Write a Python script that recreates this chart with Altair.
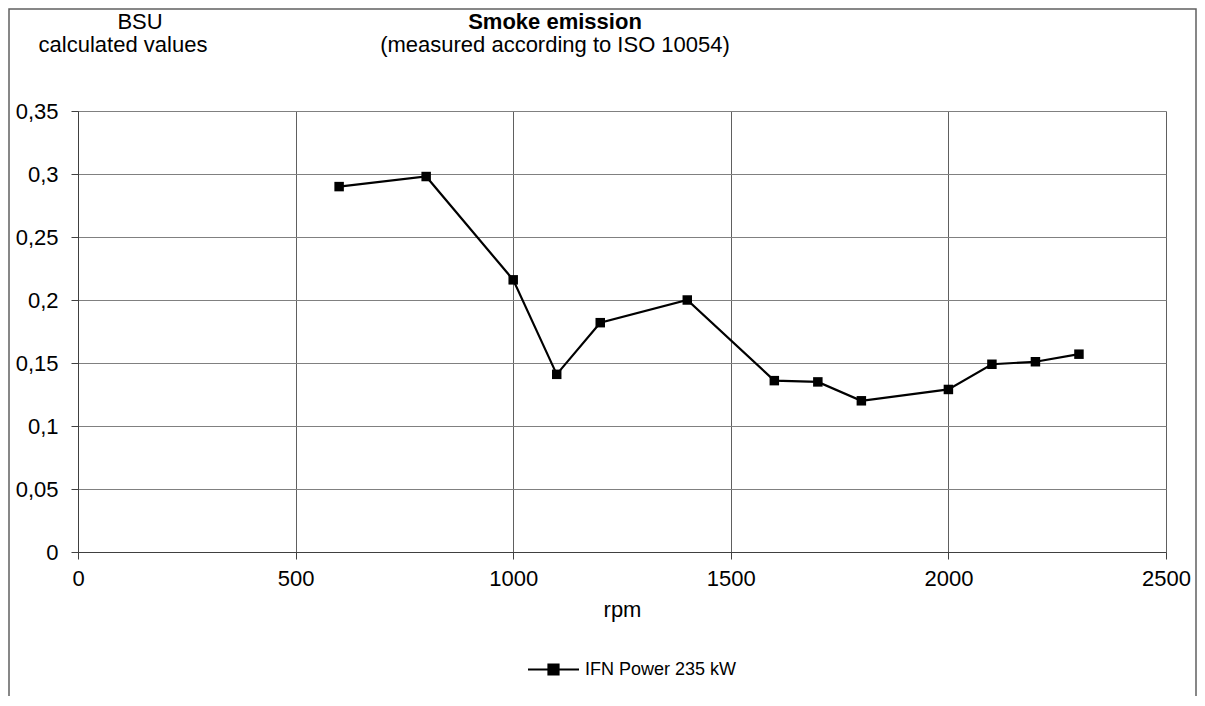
import altair as alt
import pandas as pd

rpm = [600, 800, 1000, 1100, 1200, 1400, 1600, 1700, 1800, 2000, 2100, 2200, 2300]
bsu = [0.290, 0.298, 0.216, 0.141, 0.182, 0.200, 0.136, 0.135, 0.120, 0.129, 0.149, 0.151, 0.157]
series_name = "IFN Power 235 kW"
x_ticks = [0, 500, 1000, 1500, 2000, 2500]
y_ticks = [0, 0.05, 0.1, 0.15, 0.2, 0.25, 0.3, 0.35]
y_unit_lines = ["BSU", "calculated values"]
title_lines = ["Smoke emission", "(measured according to ISO 10054)"]

df = pd.DataFrame({"rpm": rpm, "bsu": bsu, "series": [series_name] * len(rpm)})

FONT = "Liberation Sans"
W, H = 1088, 441
FS = 22

base = alt.Chart(df)

line = base.mark_line(color="black", strokeWidth=2.2, clip=False).encode(
    x=alt.X("rpm:Q",
            scale=alt.Scale(domain=[0, 2500], nice=False, zero=True),
            axis=alt.Axis(values=x_ticks, title="rpm", format="d", grid=True,
                          tickSize=7, labelPadding=9, titlePadding=10,
                          labelFontSize=FS, titleFontSize=FS, labelFont=FONT, titleFont=FONT,
                          titleFontWeight="normal", labelColor="black", titleColor="black",
                          domainColor="#404040", tickColor="#404040",
                          gridColor="#606060", labelFlush=False)),
    y=alt.Y("bsu:Q",
            scale=alt.Scale(domain=[0, 0.35], nice=False),
            axis=alt.Axis(values=y_ticks, title=None, grid=True, tickSize=7, labelPadding=13,
                          labelExpr="replace('' + datum.value, '.', ',')",
                          labelFontSize=FS, labelFont=FONT, labelColor="black",
                          domainColor="#404040", tickColor="#404040",
                          gridColor="#808080", labelFlush=False)),
    color=alt.Color("series:N",
                    scale=alt.Scale(range=["black"]),
                    legend=alt.Legend(title=None, orient="none", legendX=449, legendY=532,
                                      symbolType="M-1,0H1M-0.2,-0.2H0.2V0.2H-0.2Z",
                                      symbolSize=2601, symbolStrokeWidth=2,
                                      symbolFillColor="black", symbolStrokeColor="black",
                                      labelFont=FONT, labelFontSize=18, labelColor="black",
                                      labelOffset=5)),
)

points = base.mark_square(size=90, color="black", opacity=1, filled=True).encode(
    x="rpm:Q", y="bsu:Q",
)


def label(text, x, y, bold=False):
    return alt.Chart(pd.DataFrame({"t": [text]})).mark_text(
        font=FONT, fontSize=FS, color="black", fontWeight="bold" if bold else "normal"
    ).encode(x=alt.value(x), y=alt.value(y), text="t:N")


t_bsu = label(y_unit_lines[0], 62, -89)
t_calc = label(y_unit_lines[1], 45, -66)
t_title = label(title_lines[0], 477, -89, bold=True)
t_sub = label(title_lines[1], 477, -66)

frame = alt.Chart(pd.DataFrame({"a": [0]})).mark_rect(
    fill="transparent", stroke="#606060", strokeWidth=1.5, clip=False
).encode(x=alt.value(-69), x2=alt.value(1118), y=alt.value(-102), y2=alt.value(620))

chart = alt.layer(frame, line, points, t_bsu, t_calc, t_title, t_sub).properties(
    width=W, height=H,
    padding={"left": 70, "top": 103, "right": 31, "bottom": 144},
    autosize=alt.AutoSizeParams(type="none"),
).configure_view(stroke=None).configure(background="white")

chart.save("out.html", embed_options={"renderer": "svg", "actions": False})
